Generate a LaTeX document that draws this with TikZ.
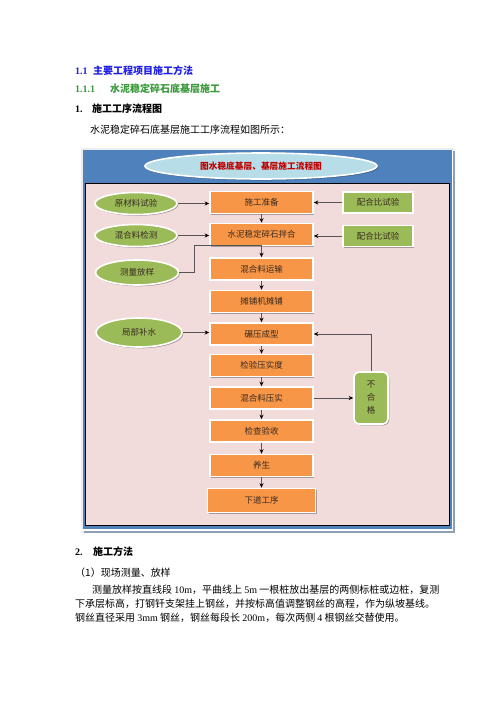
\documentclass[tikz,border=0pt]{standalone}
\usepackage{fontspec}
\setmainfont{Liberation Serif}
\newfontfamily\cjk{Noto Sans CJK SC}
\usetikzlibrary{shapes.geometric,shadows,arrows.meta}
\definecolor{orng}{HTML}{F79646}
\definecolor{grn}{HTML}{9BBB59}
\definecolor{frblue}{HTML}{4F81BD}
\definecolor{pinkbg}{HTML}{F2DCDB}
\definecolor{ttlblue}{HTML}{B7DEE8}
\definecolor{hblue}{HTML}{1F1FE6}
\definecolor{hgreen}{HTML}{3A9A3A}
\definecolor{ttlred}{HTML}{C00000}
\definecolor{lnc}{HTML}{555555}
\definecolor{txc}{HTML}{3A2A20}
\definecolor{shgray}{HTML}{8E9FB5}
\tikzset{
  shd/.style={drop shadow={shadow xshift=1.3pt,shadow yshift=-1.3pt,fill=black,opacity=0.3}},
  obox/.style={rectangle,fill=orng,draw=white,line width=1.6pt,minimum width=103pt,minimum height=22pt,inner sep=0pt,shd,font=\cjk\fontsize{8.5}{10}\selectfont,text=txc},
  gell/.style={ellipse,fill=grn,draw=white,line width=1.6pt,inner sep=0pt,shd,font=\cjk\fontsize{8.5}{10}\selectfont,text=txc},
  grect/.style={rectangle,fill=grn,draw=white,line width=1.6pt,minimum width=70pt,minimum height=21pt,inner sep=0pt,shd,font=\cjk\fontsize{8.5}{10}\selectfont,text=txc},
  arr/.style={draw=lnc,line width=0.9pt,-{Stealth[length=4.5pt,width=4pt,color=black]}},
  ln/.style={draw=lnc,line width=0.9pt},
  txt/.style={anchor=base west,inner sep=0pt,font=\cjk\fontsize{10}{12}\selectfont},
}
\begin{document}
\begin{tikzpicture}[x=1pt,y=-1pt]
\path[use as bounding box,fill=white] (0,0) rectangle (496,702);
% headings
\node[txt,text=hblue,font=\bfseries\fontsize{10}{12}\selectfont] (h1n) at (75,74) {1.1};
\node[txt,text=hblue,font=\cjk\bfseries\fontsize{10}{12}\selectfont] (h1) at (93,74) {主要工程项目施工方法};
\node[txt,text=hgreen,font=\bfseries\fontsize{10}{12}\selectfont] (h2n) at (75,92) {1.1.1};
\node[txt,text=hgreen,font=\cjk\bfseries\fontsize{10}{12}\selectfont] (h2) at (110,92) {水泥稳定碎石底基层施工};
\node[txt,font=\bfseries\fontsize{10}{12}\selectfont] (h3n) at (75,112) {1.};
\node[txt,font=\cjk\bfseries\fontsize{10}{12}\selectfont] (h3) at (92,112) {施工工序流程图};
\node[txt] (p1) at (90,133) {水泥稳定碎石底基层施工工序流程如图所示：};
% frame
\fill[fill=black!7] (80.5,147.5) rectangle (455,533);
\fill[shgray] (84,530.7) rectangle (455,533);
\fill[shgray] (452.8,151) rectangle (455,533);
\fill[frblue] (82.5,149.5) rectangle (452,529);
\fill[white] (81,529) rectangle (452,530.7);
\fill[white] (452,149.5) rectangle (452.8,530.7);
\draw[fill=pinkbg,draw=black,line width=1pt] (85.5,183) rectangle (449,525);
% title
\node[ellipse,fill=ttlblue,draw=white,line width=1.6pt,minimum width=232pt,minimum height=26pt,inner sep=0pt,shd,text=ttlred,font=\cjk\bfseries\fontsize{8.7}{10}\selectfont] (ttl) at (261,166) {图水稳底基层、基层施工流程图};
% main column
\node[obox] (b1) at (261.5,202.5) {施工准备};
\node[obox] (b2) at (261.5,234.5) {水泥稳定碎石拌合};
\node[obox] (b3) at (261.5,269) {混合料运输};
\node[obox] (b4) at (261.5,301.5) {摊铺机摊铺};
\node[obox] (b5) at (261.5,334) {碾压成型};
\node[obox] (b6) at (261.5,365.5) {检验压实度};
\node[obox] (b7) at (261.5,398) {混合料压实};
\node[obox] (b8) at (261.5,431) {检查验收};
\node[obox] (b9) at (261.5,465.5) {养生};
\node[obox,minimum width=108pt,minimum height=24pt] (b10) at (261.5,500.5) {下道工序};
% left ellipses
\node[gell,minimum width=82pt,minimum height=22pt] (e1) at (136,203.5) {原材料试验};
\node[gell,minimum width=82pt,minimum height=22pt] (e2) at (136,235.5) {混合料检测};
\node[gell,minimum width=83pt,minimum height=25pt] (e3) at (137,272.5) {测量放样};
\node[gell,minimum width=86pt,minimum height=29pt] (e4) at (139,332.5) {局部补水};
% right rects
\node[grect] (r1) at (378,202.5) {配合比试验};
\node[grect] (r2) at (378,236) {配合比试验};
\node[rectangle,rounded corners=5pt,fill=grn,draw=white,line width=1.6pt,minimum width=34pt,minimum height=52pt,inner sep=0pt,shd,align=center,text=txc,font=\cjk\fontsize{8.5}{13}\selectfont] (ng) at (371,398) {不\\合\\格};
% connectors
\draw[arr] (b1) -- (b2);
\draw[arr] (b2) -- (b3);
\draw[arr] (b3) -- (b4);
\draw[arr] (b4) -- (b5);
\draw[arr] (b5) -- (b6);
\draw[arr] (b6) -- (b7);
\draw[arr] (b7) -- (b8);
\draw[arr] (b8) -- (b9);
\draw[arr] (b9) -- (b10);
\draw[arr] (e1.east) -- (e1.east -| b1.west);
\draw[arr] (e2.east) -- (e2.east -| b2.west);
\draw[arr] (e4.east) -- (e4.east -| b5.west);
\draw[arr] (r1.west) -- (r1.west -| b1.east);
\draw[arr] (r2.west) -- (r2.west -| b2.east);
\coordinate (j1) at (194,245);
\coordinate (j2) at (261.5,245);
\draw[ln] (e3.east) -| (j1) -- (j2);
\draw[arr] (b7.east) -- (b7.east -| ng.west);
\draw[arr] (ng.north) |- (b5.east);
% lower text
\node[txt,font=\bfseries\fontsize{10}{12}\selectfont] (s2n) at (75,555) {2.};
\node[txt,font=\cjk\bfseries\fontsize{10}{12}\selectfont] (s2) at (93,555) {施工方法};
\node[txt] (q1) at (75,576) {（1）现场测量、放样};
\node[txt] (q2) at (92,593.5) {测量放样按直线段 {\rmfamily 10m}，平曲线上 {\rmfamily 5m} 一根桩放出基层的两侧标桩或边桩，复测};
\node[txt] (q3) at (75,607.5) {下承层标高，打钢钎支架挂上钢丝，并按标高值调整钢丝的高程，作为纵坡基线。};
\node[txt] (q4) at (75,621.5) {钢丝直径采用 {\rmfamily 3mm} 钢丝，钢丝每段长 {\rmfamily 200m}，每次两侧 {\rmfamily 4} 根钢丝交替使用。};
\end{tikzpicture}
\end{document}
